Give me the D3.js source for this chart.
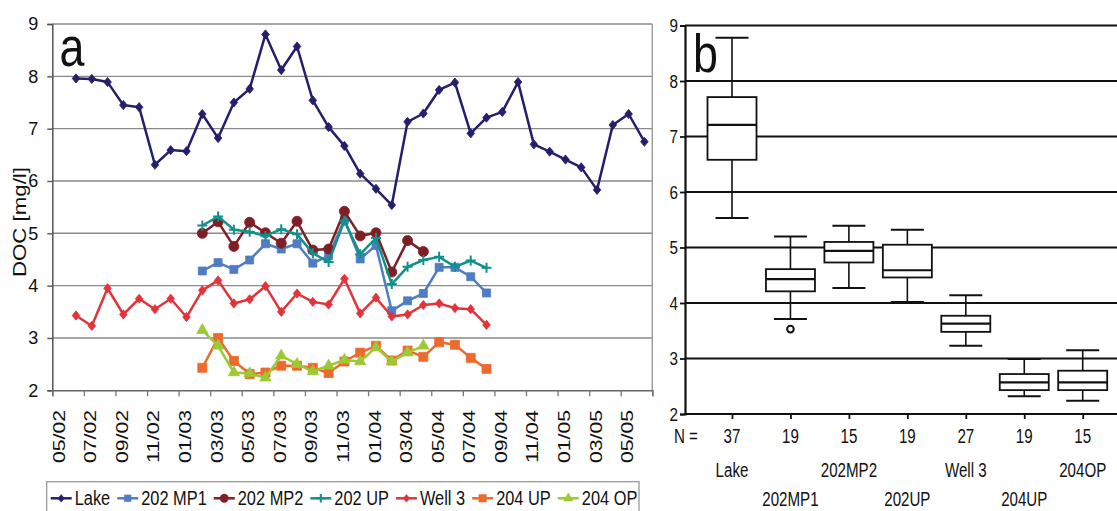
<!DOCTYPE html>
<html>
<head>
<meta charset="utf-8">
<script src="https://cdn.jsdelivr.net/npm/d3@7"></script>
<style>
  body { margin: 0; background: #fff; }
  svg { display: block; }
  text { font-family: "Liberation Sans", Arial, Helvetica, sans-serif; fill: #111; }
</style>
</head>
<body>
<svg id="chart" width="1117" height="511"></svg>
<script>
// ---- Monthly sampling dates (MM/YY) ----
const months = ["05/02","06/02","07/02","08/02","09/02","10/02","11/02","12/02",
  "01/03","02/03","03/03","04/03","05/03","06/03","07/03","08/03","09/03","10/03","11/03","12/03",
  "01/04","02/04","03/04","04/04","05/04","06/04","07/04","08/04","09/04","10/04","11/04","12/04",
  "01/05","02/05","03/05","04/05","05/05"];

// ---- Axis labels (every second month) ----
const tickLabels = ["05/02","07/02","09/02","11/02","01/03","03/03","05/03","07/03","09/03","11/03",
  "01/04","03/04","05/04","07/04","09/04","11/04","01/05","03/05","05/05"];
const yTicks = [2, 3, 4, 5, 6, 7, 8, 9];

// ---- DOC time series [mg/l], one entry per month (null = not sampled) ----
const lake = [7.96,7.95,7.89,7.45,7.41,6.31,6.59,6.57,7.28,6.82,7.50,7.76,8.80,8.12,8.57,7.54,7.03,6.67,6.14,5.85,
  5.54,7.13,7.29,7.74,7.88,6.91,7.21,7.32,7.89,6.70,6.56,6.41,6.26,5.83,7.07,7.28,6.75];
const mp1 = [null,null,null,null,null,null,null,null,
  4.28,4.44,4.31,4.49,4.80,4.70,4.80,4.43,4.57,5.26,4.51,4.77,3.52,3.71,3.85,4.35,4.35,4.17,3.86,
  null,null,null,null,null,null,null,null,null,null];
const mp2 = [null,null,null,null,null,null,null,null,
  5.00,5.22,4.75,5.21,5.01,4.81,5.23,4.68,4.70,5.42,4.95,5.01,4.26,4.86,4.65,
  null,null,null,null,null,null,null,null,null,null,null,null,null,null];
const up202 = [null,null,null,null,null,null,null,null,
  5.15,5.32,5.07,5.03,4.95,5.08,4.98,4.62,4.45,5.24,4.60,4.91,4.03,4.36,4.49,4.55,4.36,4.48,4.34,
  null,null,null,null,null,null,null,null,null,null];
const well3 = [3.43,3.23,3.95,3.45,3.75,3.55,3.75,3.40,3.91,4.10,3.66,3.74,3.99,3.50,3.85,3.69,3.64,4.13,3.47,3.77,
  3.41,3.45,3.63,3.66,3.57,3.55,3.25,
  null,null,null,null,null,null,null,null,null,null];
const up204 = [null,null,null,null,null,null,null,null,
  2.43,3.00,2.56,2.31,2.34,2.47,2.47,2.43,2.33,2.55,2.72,2.85,2.57,2.76,2.64,2.92,2.87,2.62,2.41,
  null,null,null,null,null,null,null,null,null,null];
const op204 = [null,null,null,null,null,null,null,null,
  3.15,2.85,2.34,2.32,2.24,2.66,2.50,2.36,2.47,2.58,2.55,2.82,2.55,2.72,2.85,
  null,null,null,null,null,null,null,null,null,null,null,null,null,null];

// ---- Box plot summary per site ----
const boxNames   = ["Lake","202MP1","202MP2","202UP","Well 3","204UP","204OP"];
const boxLow     = [5.53, 3.71, 4.27, 4.02, 3.23, 2.32, 2.24];
const boxQ1      = [6.58, 4.21, 4.73, 4.46, 3.48, 2.43, 2.43];
const boxMedian  = [7.21, 4.43, 4.94, 4.59, 3.63, 2.57, 2.57];
const boxQ3      = [7.71, 4.61, 5.10, 5.05, 3.77, 2.72, 2.78];
const boxHigh    = [8.78, 5.20, 5.39, 5.32, 4.14, 2.99, 3.15];
const boxOutliers = [[], [3.53], [], [], [], [], []];

// ---- Marker shapes ----
const diamondType = {
  draw(ctx, size) {
    const r = Math.sqrt(size) / 2;
    ctx.moveTo(0, -r * 1.15); ctx.lineTo(r * 0.95, 0);
    ctx.lineTo(0, r * 1.15); ctx.lineTo(-r * 0.95, 0); ctx.closePath();
  }
};
const plusType = {
  draw(ctx, size) {
    const r = Math.sqrt(size) / 2;
    ctx.moveTo(-r, 0); ctx.lineTo(r, 0); ctx.moveTo(0, -r); ctx.lineTo(0, r);
  }
};

const series = [
  { name: "Lake",    values: lake,  color: "#241f6d", type: diamondType,       size: 64, filled: true },
  { name: "202 MP1", values: mp1,   color: "#4f7cc2", type: d3.symbolSquare,   size: 64, filled: true },
  { name: "202 MP2", values: mp2,   color: "#7d1f25", type: d3.symbolCircle,   size: 80, filled: true },
  { name: "202 UP",  values: up202, color: "#11908c", type: plusType,          size: 100, filled: false },
  { name: "Well 3",  values: well3, color: "#e2333b", type: diamondType,       size: 64, filled: true },
  { name: "204 UP",  values: up204, color: "#ec6a2c", type: d3.symbolSquare,   size: 81, filled: true },
  { name: "204 OP",  values: op204, color: "#9cca35", type: d3.symbolTriangle, size: 55, filled: true }
];

const svg = d3.select("#chart");

function squeezedText(g, x, y, str, size, sx, anchor) {
  return g.append("text")
    .attr("transform", `translate(${x},${y}) scale(${sx},1)`)
    .attr("text-anchor", anchor || "start")
    .attr("font-size", size)
    .text(str);
}

// ================= Panel a: time series =================
const A = { left: 52.3, right: 652.3, top: 24, bottom: 390.3 };
const gA = svg.append("g");

const xA = d3.scaleLinear().domain([-1.5, months.length - 0.5]).range([A.left, A.right]);
const xBand = d3.scaleBand().domain(tickLabels).range([A.left, A.right]);
const yA = d3.scaleLinear().domain([2, 9]).range([A.bottom, A.top]);

// horizontal grid
gA.append("g").selectAll("line").data(yTicks.filter(v => v > 2)).join("line")
  .attr("x1", A.left).attr("x2", A.right)
  .attr("y1", d => yA(d)).attr("y2", d => yA(d))
  .attr("stroke", "#8a8a8a").attr("stroke-width", 1.4);
// right border
gA.append("line").attr("x1", A.right).attr("x2", A.right).attr("y1", A.top).attr("y2", A.bottom)
  .attr("stroke", "#9a9a9a").attr("stroke-width", 1.4);

// y axis
const yAxisA = gA.append("g").attr("transform", `translate(${A.left},0)`)
  .call(d3.axisLeft(yA).tickValues(yTicks).tickSize(5).tickPadding(9).tickFormat(d3.format("d")));
yAxisA.select(".domain").attr("stroke", "#555").attr("stroke-width", 1.5);
yAxisA.selectAll(".tick line").attr("stroke", "#555").attr("stroke-width", 1.4);
yAxisA.selectAll(".tick text").attr("font-size", 18).attr("fill", "#111")
  .attr("font-family", "Liberation Sans, Arial, sans-serif");

// x axis: ticks on band boundaries
const xTickScale = d3.scaleLinear().domain([0, tickLabels.length]).range([A.left, A.right]);
const xAxisA = gA.append("g").attr("transform", `translate(0,${A.bottom})`)
  .call(d3.axisBottom(xTickScale).tickValues(d3.range(tickLabels.length + 1)).tickSize(6).tickFormat(""));
xAxisA.select(".domain").attr("stroke", "#666").attr("stroke-width", 1.5);
xAxisA.selectAll(".tick line").attr("stroke", "#777").attr("stroke-width", 1.3);

// rotated date labels
gA.append("g").selectAll("text").data(tickLabels).join("text")
  .attr("transform", d => `translate(${xBand(d) + 6.5},410) rotate(-90)`)
  .attr("text-anchor", "end")
  .attr("dy", "0.35em")
  .attr("font-size", 17)
  .attr("textLength", 53)
  .attr("lengthAdjust", "spacingAndGlyphs")
  .text(d => d);

// y title
gA.append("text")
  .attr("transform", "translate(19.7,222) rotate(-90)")
  .attr("text-anchor", "middle").attr("dy", "0.35em")
  .attr("font-size", 17.7)
  .attr("textLength", 110).attr("lengthAdjust", "spacingAndGlyphs")
  .text("DOC [mg/l]");

// panel letter
squeezedText(gA, 59.5, 65.7, "a", 56, 0.8);

// lines + markers
const lineGen = d3.line().defined(d => d != null).x((d, i) => xA(i)).y(d => yA(d));
series.forEach(s => {
  const g = gA.append("g");
  g.append("path").datum(s.values).attr("d", lineGen)
    .attr("fill", "none").attr("stroke", s.color).attr("stroke-width", 2.5)
    .attr("stroke-linejoin", "round");
  const pts = s.values.map((v, i) => ({ v, i })).filter(p => p.v != null);
  const sym = d3.symbol().type(s.type).size(s.size);
  g.selectAll("path.m").data(pts).join("path").attr("class", "m")
    .attr("transform", p => `translate(${xA(p.i)},${yA(p.v)})`)
    .attr("d", sym())
    .attr("fill", s.filled ? s.color : "none")
    .attr("stroke", s.color)
    .attr("stroke-width", s.filled ? 0.8 : 2);
});

// legend
const legend = gA.append("g");
legend.append("rect").attr("x", 46.7).attr("y", 481.7).attr("width", 592.3).attr("height", 40)
  .attr("fill", "#fff").attr("stroke", "#9a9a9a").attr("stroke-width", 1.3);
let lx = 50.7;
const legY = 498.3, legSx = 0.78;
series.forEach(s => {
  legend.append("line").attr("x1", lx).attr("x2", lx + 21).attr("y1", legY).attr("y2", legY)
    .attr("stroke", s.color).attr("stroke-width", 2.5);
  legend.append("path").attr("transform", `translate(${lx + 10.5},${legY})`)
    .attr("d", d3.symbol().type(s.type).size(s.size * 0.7)())
    .attr("fill", s.filled ? s.color : "none").attr("stroke", s.color)
    .attr("stroke-width", s.filled ? 0.5 : 2);
  const t = squeezedText(legend, lx + 24, 505, s.name, 21, legSx);
  lx += 24 + t.node().getComputedTextLength() * legSx + 7;
});

// ================= Panel b: box plots =================
const B = { left: 685, right: 1117, top: 25.5, bottom: 414 };
const gB = svg.append("g");
const xB = d3.scalePoint().domain(boxNames).range([732, 1082.7]);
const yB = d3.scaleLinear().domain([2, 9]).range([B.bottom, B.top]);

gB.append("g").selectAll("line").data(yTicks.filter(v => v > 2)).join("line")
  .attr("x1", B.left).attr("x2", B.right)
  .attr("y1", d => yB(d)).attr("y2", d => yB(d))
  .attr("stroke", "#111").attr("stroke-width", 2.2);

const yAxisB = gB.append("g").attr("transform", `translate(${B.left},0)`)
  .call(d3.axisLeft(yB).tickValues(yTicks).tickSize(5).tickFormat(""));
yAxisB.select(".domain").attr("stroke", "#111").attr("stroke-width", 2.2);
yAxisB.selectAll(".tick line").attr("stroke", "#111").attr("stroke-width", 1.8);
gB.append("g").selectAll("text").data(yTicks).join("text")
  .attr("transform", d => `translate(678,${yB(d) + 6.5}) scale(0.8,1)`)
  .attr("text-anchor", "end").attr("font-size", 19).text(d => d);

const xAxisB = gB.append("g").attr("transform", `translate(0,${B.bottom})`)
  .call(d3.axisBottom(xB).tickSize(5).tickFormat(""));
xAxisB.select(".domain").attr("d", `M${B.left},0H${B.right}`).attr("stroke", "#111").attr("stroke-width", 2.2);
xAxisB.selectAll(".tick line").attr("stroke", "#111").attr("stroke-width", 1.8);

squeezedText(gB, 693, 71.7, "b", 54, 0.83);

const boxW = 49, capW = 33;
boxNames.forEach((name, i) => {
  const cx = xB(name);
  const g = gB.append("g").attr("stroke", "#111").attr("fill", "none");
  g.append("line").attr("x1", cx).attr("x2", cx).attr("y1", yB(boxHigh[i])).attr("y2", yB(boxQ3[i])).attr("stroke-width", 1.6);
  g.append("line").attr("x1", cx).attr("x2", cx).attr("y1", yB(boxQ1[i])).attr("y2", yB(boxLow[i])).attr("stroke-width", 1.6);
  g.append("line").attr("x1", cx - capW / 2).attr("x2", cx + capW / 2)
    .attr("y1", yB(boxHigh[i])).attr("y2", yB(boxHigh[i])).attr("stroke-width", 2);
  g.append("line").attr("x1", cx - capW / 2).attr("x2", cx + capW / 2)
    .attr("y1", yB(boxLow[i])).attr("y2", yB(boxLow[i])).attr("stroke-width", 2);
  g.append("rect").attr("x", cx - boxW / 2).attr("width", boxW)
    .attr("y", yB(boxQ3[i])).attr("height", yB(boxQ1[i]) - yB(boxQ3[i]))
    .attr("fill", "#fff").attr("stroke-width", 1.8);
  g.append("line").attr("x1", cx - boxW / 2).attr("x2", cx + boxW / 2)
    .attr("y1", yB(boxMedian[i])).attr("y2", yB(boxMedian[i])).attr("stroke-width", 2.2);
  boxOutliers[i].forEach(v => {
    g.append("circle").attr("cx", cx).attr("cy", yB(v)).attr("r", 3.3).attr("stroke-width", 2);
  });
});

// sample sizes and site names
const counts = series.map(s => s.values.filter(v => v != null).length);
squeezedText(gB, 674, 442.7, "N =", 21, 0.72);
boxNames.forEach((name, i) => {
  squeezedText(gB, xB(name), 442.7, String(counts[i]), 21, 0.72, "middle");
  squeezedText(gB, xB(name), i % 2 === 0 ? 476.7 : 505.5, name, 21, 0.72, "middle");
});
</script>
</body>
</html>
